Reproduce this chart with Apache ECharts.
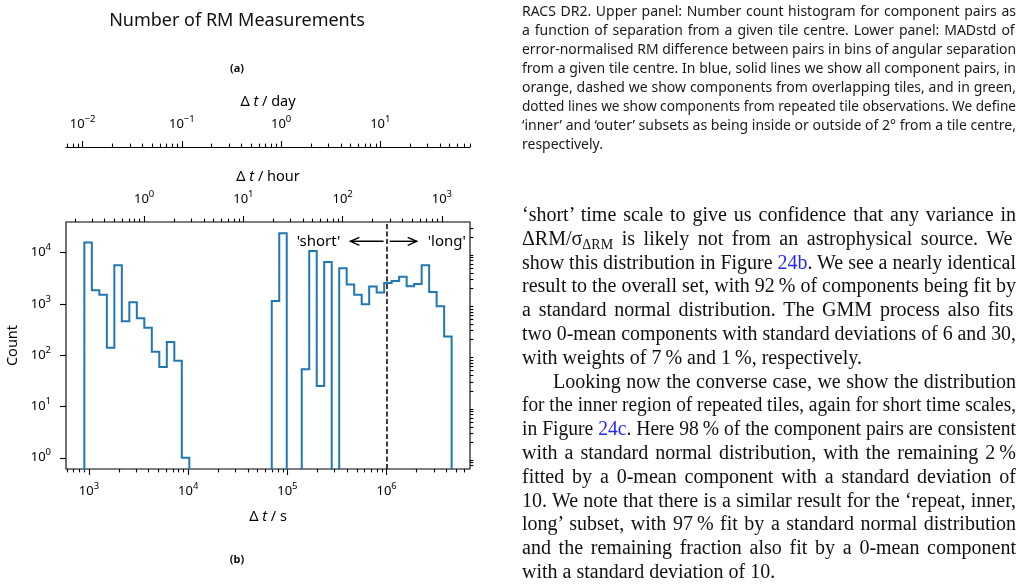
<!DOCTYPE html>
<html>
<head>
<meta charset="utf-8">
<title>Number of RM Measurements</title>
<script src="https://cdn.jsdelivr.net/npm/echarts@6.0.0/dist/echarts.min.js"></script>
<style>
  html, body { margin: 0; padding: 0; background: #fff; }
  #main { position: absolute; left: 0; top: 0; width: 1026px; height: 587px; }
  .line { position: absolute; white-space: nowrap; }
  .line span { display: inline-block; transform-origin: left center; }
  .cap { font-family: "Noto Sans", sans-serif; font-size: 14px; color: #1a1a1a; height: 20px; line-height: 20px; }
  .body { font-family: "Liberation Serif", serif; font-size: 20px; color: #111; height: 24px; line-height: 24px; }
  .body a { color: #2626f2; text-decoration: none; }
  .sub { font-size: 14px; vertical-align: -4px; }
</style>
</head>
<body>
<div id="main"></div>
<script>
  // histogram: log-spaced bin edges (s) and counts per bin
  const binEdges = [899, 1070, 1274, 1516, 1804, 2146, 2554, 3039, 3616, 4303,
    5121, 6093, 7253, 8629, 10266, 12218, 14538, 17298, 20581, 24494,
    29145, 34678, 41279, 49118, 58443, 69539, 82761, 98469, 117163, 139443,
    165920, 197425, 234963, 279577, 332660, 395811, 471063, 560502, 666913, 793707,
    944400, 1123700, 1337000, 1591400, 1893600, 2253100, 2680800, 3190800, 3796600, 4517000];
  const counts = [15700, 1840, 1510, 140, 5650, 457, 1070, 522, 344, 117,
    59, 180, 78, 1, 0, 0, 0, 0, 0, 0,
    0, 0, 0, 0, 0, 1140, 23800, 0, 0, 53,
    10700, 25, 6550, 0, 4940, 2380, 1510, 980, 2170, 1660,
    2550, 2790, 3390, 2200, 2440, 5650, 1700, 896, 230];

  // tick exponents
  const secondExps = [3, 4, 5, 6];
  const hourExps = [0, 1, 2, 3];
  const dayExps = [-2, -1, 0, 1];
  const countExps = [0, 1, 2, 3, 4];

  // short / long split (s) and annotation anchors (log10 s, log10 count)
  const splitSeconds = 1e6;
  const arrows = [[5.969, 5.635, 4.22], [6.030, 6.303, 4.22]];
  const notes = [[5.534, 4.22, "'short'", 'right'], [6.414, 4.22, "'long'", 'left']];

  const xLim = [2.769, 6.840];   // log10 s
  const yLim = [-0.219, 4.596];  // log10 count
  const LOG_HOUR = Math.log10(3600);
  const LOG_DAY = Math.log10(86400);
  const FONT = 'Noto Sans';
  const FLOOR = -5;

  function minorTicks(shift, lim) {
    const out = [];
    for (let n = -6; n <= 9; n++) {
      for (let k = 2; k <= 9; k++) {
        const v = n + Math.log10(k) + shift;
        if (v > lim[0] && v < lim[1]) out.push(v);
      }
    }
    return out;
  }

  const lc = c => (c > 0 ? Math.log10(c) : FLOOR);
  const stepPts = [[Math.log10(binEdges[0]), FLOOR]];
  counts.forEach(function (c, i) {
    stepPts.push([Math.log10(binEdges[i]), lc(c)], [Math.log10(binEdges[i + 1]), lc(c)]);
  });
  stepPts.push([Math.log10(binEdges[binEdges.length - 1]), FLOOR]);

  const labelRich = {
    b: { fontFamily: FONT, fontSize: 13, color: '#000', lineHeight: 20 },
    s: { fontFamily: FONT, fontSize: 9.5, color: '#000', lineHeight: 11, verticalAlign: 'top' }
  };
  const nameRich = {
    n: { fontFamily: FONT, fontSize: 14.5, color: '#000', lineHeight: 20 },
    i: { fontFamily: FONT, fontSize: 14.5, color: '#000', lineHeight: 20, fontStyle: 'italic' }
  };
  function powLabel(shift) {
    return function (v) {
      const n = Math.round(v - shift);
      return '{b|10}{s|' + (n < 0 ? '\u2212' + (-n) : n) + '}';
    };
  }
  const tickStyle = { color: '#000', width: 1.1 };

  function xAx(o) {
    return Object.assign({
      type: 'value', min: xLim[0], max: xLim[1],
      axisLine: { show: false, onZero: false }, splitLine: { show: false },
      axisTick: { show: false }, axisLabel: { show: false }
    }, o);
  }
  function majorX(values, shift, margin) {
    return {
      axisTick: { show: true, customValues: values, length: 6, lineStyle: tickStyle },
      axisLabel: { show: true, customValues: values, formatter: powLabel(shift), rich: labelRich, margin: margin }
    };
  }
  function minorX(values) {
    return { axisTick: { show: true, customValues: values, length: 3.4, lineStyle: tickStyle } };
  }

  const secMajor = secondExps.slice();
  const hourMajor = hourExps.map(n => n + LOG_HOUR);
  const dayMajor = dayExps.map(n => n + LOG_DAY);

  const chart = echarts.init(document.getElementById('main'), null, { renderer: 'canvas' });
  const option = {
    animation: false,
    backgroundColor: '#fff',
    grid: [
      { left: 66, top: 222, width: 404, height: 247, show: true, borderColor: '#000', borderWidth: 1.1, backgroundColor: 'transparent' },
      { left: 66, top: 147, width: 404, height: 1, show: false }
    ],
    xAxis: [
      xAx(Object.assign({ gridIndex: 0, position: 'bottom',
        name: '{n|\u0394 }{i|t}{n| / s}', nameLocation: 'middle', nameGap: 38,
        nameTextStyle: { rich: nameRich } }, majorX(secMajor, 0, 12))),
      xAx(Object.assign({ gridIndex: 0, position: 'bottom' }, minorX(minorTicks(0, xLim)))),
      xAx(Object.assign({ gridIndex: 0, position: 'top',
        name: '{n|\u0394 }{i|t}{n| / hour}', nameLocation: 'middle', nameGap: 35,
        nameTextStyle: { rich: nameRich } }, majorX(hourMajor, LOG_HOUR, 12.5))),
      xAx(Object.assign({ gridIndex: 0, position: 'top' }, minorX(minorTicks(LOG_HOUR, xLim)))),
      xAx(Object.assign({ gridIndex: 1, position: 'top',
        axisLine: { show: true, onZero: false, lineStyle: { color: '#000', width: 1.1 } },
        name: '{n|\u0394 }{i|t}{n| / day}', nameLocation: 'middle', nameGap: 35,
        nameTextStyle: { rich: nameRich } }, majorX(dayMajor, LOG_DAY, 12.5))),
      xAx(Object.assign({ gridIndex: 1, position: 'top' }, minorX(minorTicks(LOG_DAY, xLim))))
    ],
    yAxis: [
      {
        gridIndex: 0, type: 'value', min: yLim[0], max: yLim[1],
        axisLine: { show: false, onZero: false }, splitLine: { show: false },
        axisTick: { show: true, customValues: countExps, length: 6, lineStyle: tickStyle },
        axisLabel: { show: true, customValues: countExps, formatter: powLabel(0), rich: labelRich, margin: 15 },
        name: 'Count', nameLocation: 'middle', nameGap: 43,
        nameTextStyle: { fontFamily: FONT, fontSize: 14.5, color: '#000', lineHeight: 20 }
      },
      {
        gridIndex: 0, type: 'value', min: yLim[0], max: yLim[1],
        axisLine: { show: false, onZero: false }, splitLine: { show: false }, axisLabel: { show: false },
        axisTick: { show: true, customValues: minorTicks(0, yLim), length: 3.4, lineStyle: tickStyle }
      },
      { gridIndex: 1, type: 'value', show: false, min: 0, max: 1 }
    ],
    graphic: [
      { type: 'text', x: 237, y: 21, style: { text: 'Number of RM Measurements', font: '18px "Noto Sans"', fill: '#111', textAlign: 'center', textVerticalAlign: 'middle' } },
      { type: 'text', x: 237, y: 69, style: { text: '(a)', font: 'bold 11px "Noto Sans"', fill: '#111', textAlign: 'center', textVerticalAlign: 'middle' } },
      { type: 'text', x: 237, y: 560, style: { text: '(b)', font: 'bold 11px "Noto Sans"', fill: '#111', textAlign: 'center', textVerticalAlign: 'middle' } }
    ],
    series: [
      {
        name: 'pairs', type: 'line', xAxisIndex: 0, yAxisIndex: 0,
        data: stepPts, symbol: 'none', clip: true, silent: true,
        lineStyle: { color: '#1f77b4', width: 2, join: 'miter' },
        markLine: {
          silent: true, symbol: ['none', 'none'], label: { show: false },
          lineStyle: { color: '#000', width: 1.5, type: [5, 2.5] },
          data: [{ xAxis: Math.log10(splitSeconds) }]
        }
      },
      {
        type: 'custom', xAxisIndex: 0, yAxisIndex: 0, silent: true,
        data: arrows,
        renderItem: function (params, api) {
          const p0 = api.coord([api.value(0), api.value(2)]);
          const p1 = api.coord([api.value(1), api.value(2)]);
          const d = p1[0] > p0[0] ? 1 : -1;
          const st = { stroke: '#000', lineWidth: 1.4, fill: null };
          return {
            type: 'group', children: [
              { type: 'line', shape: { x1: p0[0], y1: p0[1], x2: p1[0], y2: p1[1] }, style: st },
              { type: 'polyline', shape: { points: [[p1[0] - d * 9, p1[1] - 4], [p1[0], p1[1]], [p1[0] - d * 9, p1[1] + 4]] }, style: st }
            ]
          };
        }
      },
      {
        type: 'custom', xAxisIndex: 0, yAxisIndex: 0, silent: true,
        data: notes.map(n => [n[0], n[1]]),
        renderItem: function (params, api) {
          const p = api.coord([api.value(0), api.value(1)]);
          const n = notes[params.dataIndex];
          return {
            type: 'text', x: p[0], y: p[1],
            style: { text: n[2], font: '15px "Noto Sans"', fill: '#000', textAlign: n[3], textVerticalAlign: 'middle' }
          };
        }
      }
    ]
  };
  chart.setOption(option);

  // right-hand page text
  const captionLines = [
    ['RACS DR2. Upper panel: Number count histogram for component pairs as', true],
    ['a function of separation from a given tile centre.  Lower panel: MADstd of', true],
    ['error-normalised RM difference between pairs in bins of angular separation', true],
    ['from a given tile centre. In blue, solid lines we show all component pairs, in', true],
    ['orange, dashed we show components from overlapping tiles, and in green,', true],
    ['dotted lines we show components from repeated tile observations. We define', true],
    ['\u2018inner\u2019 and \u2018outer\u2019 subsets as being inside or outside of 2\u00b0 from a tile centre,', true],
    ['respectively.', false]
  ];
  const bodyLines = [
    ['\u2018short\u2019 time scale to give us confidence that any variance in', true],
    ['\u0394RM/\u03c3<span class="sub">\u0394RM</span> is likely not from an astrophysical source.  We', true],
    ['show this distribution in Figure <a>24b</a>. We see a nearly identical', true],
    ['result to the overall set, with 92\u2009% of components being fit by', true],
    ['a standard normal distribution.  The GMM process also fits', true],
    ['two 0-mean components with standard deviations of 6 and 30,', true],
    ['with weights of 7\u2009% and 1\u2009%, respectively.', false],
    ['Looking now the converse case, we show the distribution', true, 31],
    ['for the inner region of repeated tiles, again for short time scales,', true],
    ['in Figure <a>24c</a>. Here 98\u2009% of the component pairs are consistent', true],
    ['with a standard normal distribution, with the remaining 2\u2009%', true],
    ['fitted by a 0-mean component with a standard deviation of', true],
    ['10. We note that there is a similar result for the \u2018repeat, inner,', true],
    ['long\u2019 subset, with 97\u2009% fit by a standard normal distribution', true],
    ['and the remaining fraction also fit by a 0-mean component', true],
    ['with a standard deviation of 10.', false]
  ];

  function placeLines(lines, cls, y0, step, lh) {
    const left = 522, width = 494;
    lines.forEach(function (l, i) {
      const indent = l[2] || 0;
      const div = document.createElement('div');
      div.className = 'line ' + cls;
      div.style.left = (left + indent) + 'px';
      div.style.top = (y0 + i * step - lh / 2) + 'px';
      const span = document.createElement('span');
      span.innerHTML = l[0];
      div.appendChild(span);
      document.body.appendChild(div);
      if (l[1]) {
        const target = width - indent;
        const w = span.getBoundingClientRect().width;
        const spaces = (span.textContent.match(/ /g) || []).length;
        if (w < target && spaces) span.style.wordSpacing = ((target - w) / spaces) + 'px';
        else if (w > target) span.style.transform = 'scaleX(' + (target / w) + ')';
      }
    });
  }
  placeLines(captionLines, 'cap', 11, 19, 20);
  placeLines(bodyLines, 'body', 214, 23.8, 24);
</script>
</body>
</html>
